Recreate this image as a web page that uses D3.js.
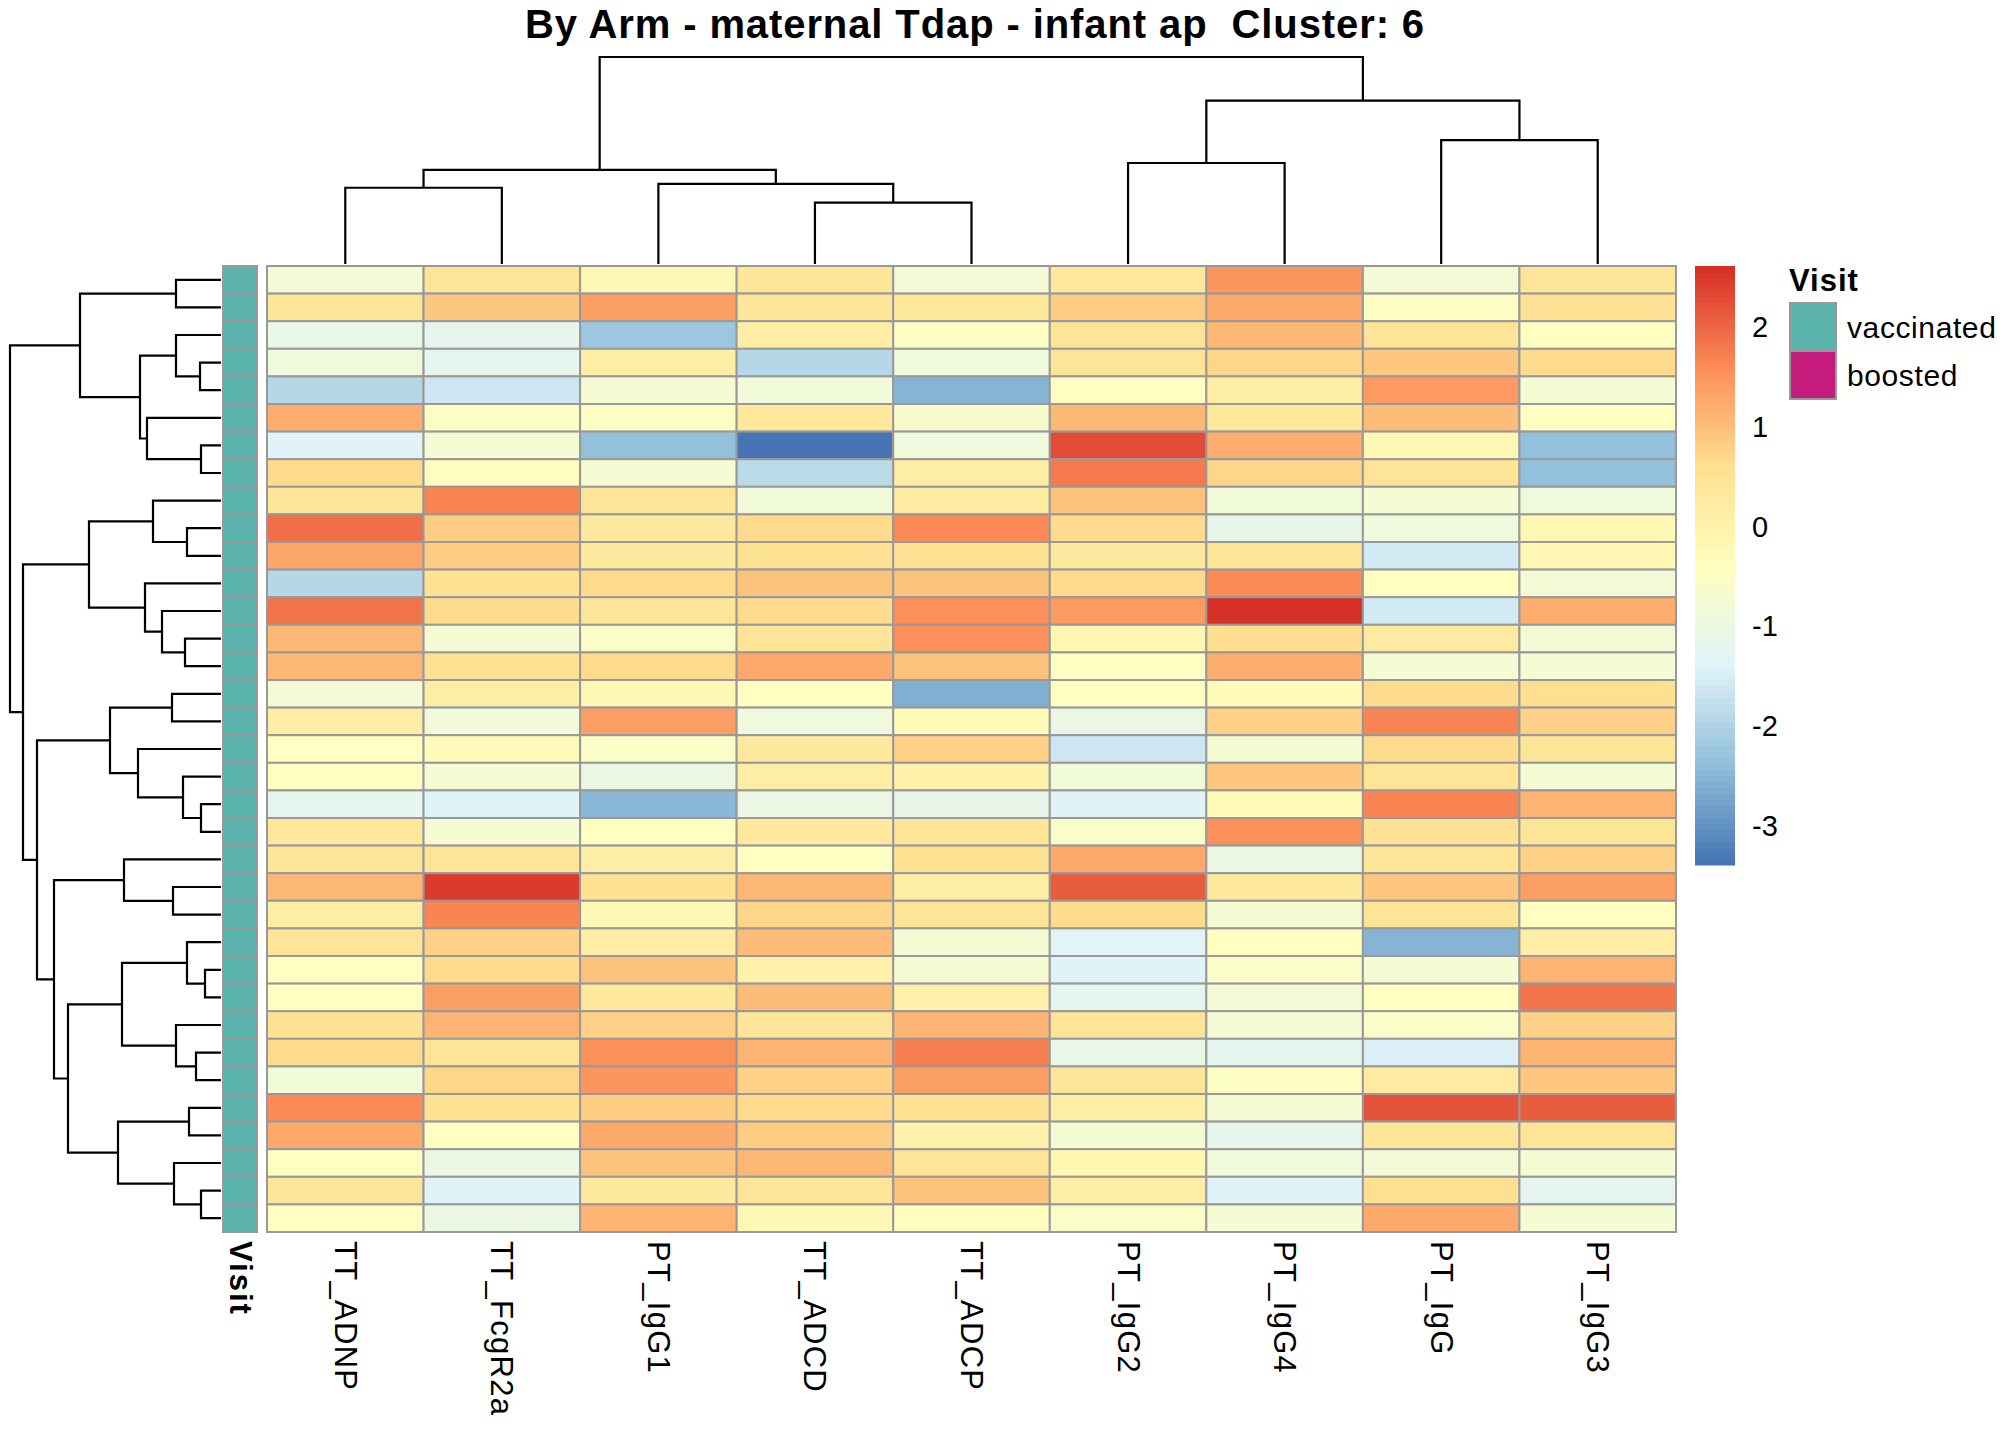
<!DOCTYPE html>
<html>
<head>
<meta charset="utf-8">
<script src="https://cdn.jsdelivr.net/npm/d3@7"></script>
<style>
  body { margin: 0; background: #fff; }
  text { font-family: "Liberation Sans", Arial, sans-serif; white-space: pre; }
</style>
</head>
<body>
<div id="graphic"></div>
<script>
// column labels, in dendrogram order
var colLabels = ["TT_ADNP", "TT_FcgR2a", "PT_IgG1", "TT_ADCD", "TT_ADCP", "PT_IgG2", "PT_IgG4", "PT_IgG", "PT_IgG3"];

// scaled values, one array per row (top to bottom)
var values = [
  [-0.8, 0.5, -0.2, 0.4, -0.8, 0.35, 1.5, -0.8, 0.4],
  [0.4, 0.9, 1.4, 0.4, 0.35, 0.85, 1.25, -0.5, 0.55],
  [-1.1, -1.2, -2.2, 0.15, -0.5, 0.45, 1.1, 0.5, -0.4],
  [-0.9, -1.2, 0.15, -1.95, -0.9, 0.45, 0.7, 0.9, 0.65],
  [-1.95, -1.65, -0.75, -0.85, -2.55, -0.4, 0.2, 1.45, -0.7],
  [1.2, -0.5, -0.5, 0.35, -0.6, 1.05, 0.35, 1.0, -0.4],
  [-1.4, -0.75, -2.35, -3.39, -0.9, 2.3, 1.2, -0.2, -2.35],
  [0.65, -0.35, -0.7, -1.85, 0.15, 1.8, 0.7, 0.45, -2.35],
  [0.5, 1.65, 0.45, -0.85, 0.25, 0.95, -0.85, -0.75, -0.9],
  [1.9, 0.85, 0.3, 0.65, 1.6, 0.65, -1.15, -0.9, -0.15],
  [1.3, 0.85, 0.3, 0.55, 0.55, 0.3, 0.5, -1.55, -0.1],
  [-1.95, 0.55, 0.65, 0.95, 0.95, 0.65, 1.6, -0.4, -0.8],
  [1.85, 0.65, 0.4, 0.65, 1.55, 1.45, 2.61, -1.55, 1.2],
  [1.1, -0.75, -0.55, 0.45, 1.55, -0.15, 0.6, 0.25, -0.8],
  [1.1, 0.55, 0.65, 1.25, 0.95, -0.4, 1.2, -0.7, -0.75],
  [-0.8, 0.2, -0.2, -0.4, -2.6, -0.45, -0.3, 0.65, 0.6],
  [0.2, -0.85, 1.4, -0.9, -0.25, -1.0, 0.8, 1.65, 0.8],
  [-0.4, -0.3, -0.55, 0.3, 0.8, -1.6, -0.7, 0.65, 0.4],
  [-0.45, -0.7, -1.0, 0.2, 0.0, -0.85, 0.9, 0.45, -0.75],
  [-1.2, -1.4, -2.45, -1.05, -1.15, -1.4, -0.25, 1.65, 1.15],
  [0.35, -0.75, -0.4, 0.3, 0.45, -0.55, 1.55, 0.55, 0.4],
  [0.45, 0.45, 0.2, -0.4, 0.55, 1.25, -1.0, 0.5, 0.8],
  [1.05, 2.45, 0.55, 1.05, 0.15, 2.1, 0.3, 0.9, 1.35],
  [0.15, 1.65, -0.2, 0.7, 0.45, 0.65, -0.7, 0.45, -0.4],
  [0.45, 0.8, 0.15, 1.0, -0.7, -1.3, -0.45, -2.55, 0.2],
  [-0.4, 0.65, 0.95, 0.05, -0.7, -1.4, -0.55, -0.7, 1.15],
  [-0.4, 1.4, 0.35, 1.0, 0.05, -1.2, -0.8, -0.45, 1.85],
  [0.55, 1.15, 0.75, 0.4, 1.15, 0.45, -0.75, -0.55, 0.8],
  [0.65, 0.5, 1.55, 1.15, 1.75, -1.1, -1.2, -1.45, 1.15],
  [-0.85, 0.7, 1.5, 0.75, 1.4, 0.4, -0.5, 0.25, 0.9],
  [1.6, 0.55, 0.85, 0.65, 0.55, 0.2, -0.75, 2.2, 2.1],
  [1.25, -0.4, 1.25, 0.85, 0.05, -0.75, -1.2, 0.4, 0.45],
  [-0.4, -1.05, 0.95, 1.1, 0.5, -0.1, -0.9, -0.8, -0.7],
  [0.4, -1.4, 0.3, 0.5, 0.95, 0.15, -1.4, 0.6, -1.2],
  [-0.45, -1.05, 1.15, -0.2, -0.35, -0.55, -0.75, 1.25, -0.75]
];

// row annotation
var visit = ["vaccinated", "vaccinated", "vaccinated", "vaccinated", "vaccinated", "vaccinated", "vaccinated",
  "vaccinated", "vaccinated", "vaccinated", "vaccinated", "vaccinated", "vaccinated", "vaccinated",
  "vaccinated", "vaccinated", "vaccinated", "vaccinated", "vaccinated", "vaccinated", "vaccinated",
  "vaccinated", "vaccinated", "vaccinated", "vaccinated", "vaccinated", "vaccinated", "vaccinated",
  "vaccinated", "vaccinated", "vaccinated", "vaccinated", "vaccinated", "vaccinated", "vaccinated"];
var visitLevels = ["vaccinated", "boosted"];
var visitColors = ["#5AB4AC", "#C51B7D"];

// hclust style merges: negative = leaf (1-based), positive = earlier merge, then height
var rowMerge = [
  [-1, -2, 45], [-4, -5, 21], [-3, 2, 45], [-7, -8, 20], [-6, 4, 74], [3, 5, 81], [1, 6, 141],
  [-10, -11, 34], [-9, 8, 68], [-14, -15, 36], [-13, 10, 59], [-12, 11, 76], [9, 12, 132],
  [-16, -17, 49], [-20, -21, 20], [-19, 15, 38], [-18, 16, 83], [14, 17, 111],
  [-23, -24, 48], [-22, 19, 97], [-26, -27, 16], [-25, 21, 34], [-29, -30, 25], [-28, 23, 45],
  [22, 24, 99], [-31, -32, 32], [-34, -35, 20], [-33, 27, 47], [26, 28, 103], [25, 29, 153],
  [20, 30, 167], [18, 31, 184], [13, 32, 198], [7, 33, 211]
];
var colMerge = [
  [-1, -2, 77], [-4, -5, 62], [-3, 2, 81], [1, 3, 95], [-6, -7, 102], [-8, -9, 125], [5, 6, 165], [4, 7, 209]
];

// RdYlBu (7) reversed, as pheatmap default
var paletteColors = ["#4575B4", "#91BFDB", "#E0F3F8", "#FFFFBF", "#FEE090", "#FC8D59", "#D73027"];
var legendTicks = [-3, -2, -1, 0, 1, 2];

var title = "By Arm - maternal Tdap - infant ap  Cluster: 6";

function render() {
  var svg = d3.select("#graphic").append("svg")
    .attr("width", 2016).attr("height", 1440);
  svg.append("rect").attr("width", 2016).attr("height", 1440).attr("fill", "#fff");

  var rowIdx = d3.range(values.length);
  var x = d3.scaleBand().domain(colLabels).range([267, 1676]);
  var y = d3.scaleBand().domain(rowIdx).range([266, 1232]);

  var extent = d3.extent(d3.merge(values));
  var color = d3.scaleQuantize().domain(extent)
    .range(d3.quantize(d3.piecewise(d3.interpolateRgb, paletteColors), 100));
  var visitColor = d3.scaleOrdinal().domain(visitLevels).range(visitColors);

  // title
  svg.append("text")
    .attr("x", 975).attr("y", 38)
    .attr("text-anchor", "middle")
    .attr("font-size", 40).attr("font-weight", "bold")
    .attr("letter-spacing", 0.9)
    .text(title);

  // cells
  var rows = svg.append("g").selectAll("g").data(values).join("g");
  rows.selectAll("rect")
    .data(function(d, i) { return d.map(function(v, j) { return {r: i, c: colLabels[j], v: v}; }); })
    .join("rect")
    .attr("x", function(d) { return x(d.c); })
    .attr("y", function(d) { return y(d.r); })
    .attr("width", x.bandwidth())
    .attr("height", y.bandwidth())
    .attr("fill", function(d) { return color(d.v); })
    .attr("stroke", "#999999").attr("stroke-width", 2);

  // annotation column
  svg.append("g").selectAll("rect").data(visit).join("rect")
    .attr("x", 223).attr("width", 34)
    .attr("y", function(d, i) { return y(i); })
    .attr("height", y.bandwidth())
    .attr("fill", function(d) { return visitColor(d); })
    .attr("stroke", "#999999").attr("stroke-width", 2);

  // dendrograms
  var rowH = d3.scaleLinear().domain([0, d3.max(rowMerge, function(d) { return d[2]; })]).range([221, 10]);
  drawTree(svg, rowMerge, function(i) { return y(i) + y.bandwidth() / 2; }, rowH, "left");
  var colH = d3.scaleLinear().domain([0, d3.max(colMerge, function(d) { return d[2]; })]).range([264, 57]);
  drawTree(svg, colMerge, function(i) { return x(colLabels[i]) + x.bandwidth() / 2; }, colH, "top");

  // column labels
  svg.append("g").selectAll("text").data(colLabels).join("text")
    .attr("transform", function(d) { return "translate(" + (x(d) + x.bandwidth() / 2) + ",1241) rotate(90)"; })
    .attr("dominant-baseline", "central")
    .attr("font-size", 31).attr("letter-spacing", 1.3)
    .text(function(d) { return d; });
  svg.append("text")
    .attr("transform", "translate(240,1241) rotate(90)")
    .attr("dominant-baseline", "central")
    .attr("font-size", 31).attr("font-weight", "bold").attr("letter-spacing", 2)
    .text("Visit");

  // colour legend
  var ly = d3.scaleLinear().domain(extent).range([865, 266]);
  var step = (extent[1] - extent[0]) / 100;
  svg.append("g").selectAll("rect").data(color.range()).join("rect")
    .attr("x", 1695).attr("width", 40)
    .attr("y", function(d, i) { return ly(extent[0] + (i + 1) * step); })
    .attr("height", function(d, i) { return ly(extent[0] + i * step) - ly(extent[0] + (i + 1) * step) + 0.5; })
    .attr("fill", function(d) { return d; });
  svg.append("g").selectAll("text").data(legendTicks).join("text")
    .attr("x", 1752).attr("y", function(d) { return ly(d); })
    .attr("dominant-baseline", "central")
    .attr("font-size", 29)
    .text(function(d) { return d; });

  // annotation legend
  svg.append("text").attr("x", 1789).attr("y", 291)
    .attr("font-size", 31).attr("font-weight", "bold").attr("letter-spacing", 1)
    .text("Visit");
  var lg = svg.append("g").selectAll("g").data(visitLevels).join("g")
    .attr("transform", function(d, i) { return "translate(1790," + (303 + i * 48) + ")"; });
  lg.append("rect").attr("width", 46).attr("height", 48)
    .attr("fill", function(d) { return visitColor(d); })
    .attr("stroke", "#999999").attr("stroke-width", 2);
  lg.append("text").attr("x", 57).attr("y", 24)
    .attr("dominant-baseline", "central")
    .attr("font-size", 30).attr("letter-spacing", 0.6)
    .text(function(d) { return d; });
}

function drawTree(svg, merge, leafPos, hScale, orient) {
  var pos = [], ht = [];
  var g = svg.append("g").attr("fill", "none").attr("stroke", "#000").attr("stroke-width", 2.2);
  function get(k) {
    if (k < 0) return {p: leafPos(-k - 1), h: 0};
    return {p: pos[k - 1], h: ht[k - 1]};
  }
  merge.forEach(function(m, i) {
    var a = get(m[0]), b = get(m[1]);
    pos[i] = (a.p + b.p) / 2;
    ht[i] = m[2];
    var pts = [[a.p, a.h], [a.p, m[2]], [b.p, m[2]], [b.p, b.h]];
    var line = d3.line()
      .x(function(d) { return orient == "left" ? hScale(d[1]) : d[0]; })
      .y(function(d) { return orient == "left" ? d[0] : hScale(d[1]); });
    g.append("path").attr("d", line(pts));
  });
}

render();
</script>
</body>
</html>
